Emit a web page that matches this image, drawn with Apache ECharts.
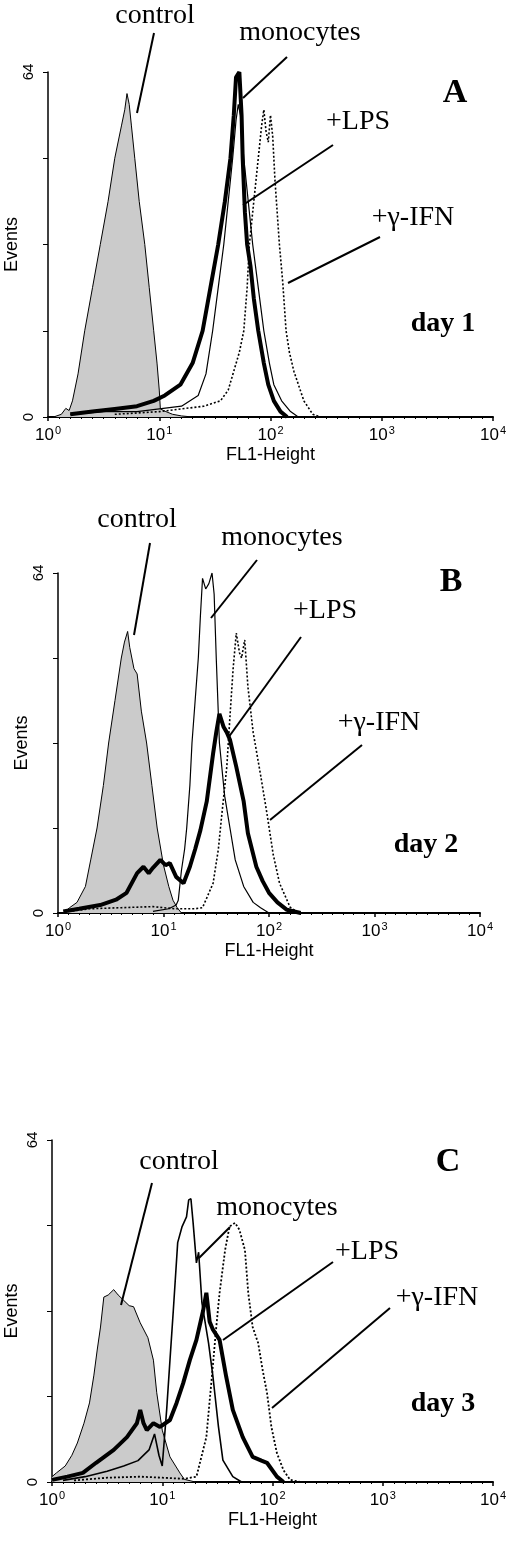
<!DOCTYPE html>
<html>
<head>
<meta charset="utf-8">
<script src="https://cdn.jsdelivr.net/npm/echarts@6/dist/echarts.min.js"></script>
<style>
  html, body { margin: 0; padding: 0; background: #fff; }
  #chart { width: 520px; height: 1545px; }
</style>
</head>
<body>
<div id="chart"></div>
<script>
  // x = log10(FL1-Height), y = events per channel
  var decades = [0, 1, 2, 3, 4]
  var yLabels = [0, 64]

  // day 1
  var ctrlA = [[0.05,0],[0.12,0.5],[0.16,1.6],[0.19,1.2],[0.22,3],[0.27,8],[0.33,16],[0.4,24],[0.47,32],[0.54,40],[0.6,48],[0.66,54],[0.69,57],[0.71,60],[0.73,58],[0.75,54],[0.78,48],[0.82,40],[0.87,32],[0.91,24],[0.95,16],[0.98,10],[1.0,5],[1.01,1.5],[1.06,1],[1.12,0.5],[1.2,0.2],[1.3,0]]
  var monoA = [[0.2,0.5],[0.4,1],[0.6,1.5],[0.8,2],[0.95,3],[1.05,4],[1.19,6],[1.3,10],[1.39,16],[1.46,24],[1.53,32],[1.59,40],[1.64,48],[1.67,56],[1.69,63],[1.72,64],[1.74,56],[1.75,48],[1.77,38],[1.79,32],[1.82,28],[1.85,22],[1.89,16],[1.94,10],[1.98,6],[2.03,3],[2.09,1],[2.15,0]]
  var lpsA = [[0.2,0.5],[0.5,1],[0.8,1],[1.0,1.5],[1.2,2],[1.35,4],[1.42,8],[1.48,16],[1.53,24],[1.58,32],[1.62,40],[1.66,48],[1.69,55],[1.71,58],[1.73,56],[1.76,48],[1.8,40],[1.84,32],[1.89,24],[1.94,16],[1.99,10],[2.03,6],[2.1,3],[2.18,1],[2.25,0]]
  var ifnA = [[0.6,0.5],[1.0,1],[1.2,1.5],[1.4,2],[1.55,3],[1.62,5],[1.67,8.5],[1.72,12],[1.76,16],[1.79,24],[1.81,32],[1.85,40],[1.89,48],[1.92,54],[1.94,57],[1.96,53],[1.98,51],[2.0,56],[2.02,52],[2.04,44],[2.08,32],[2.11,25],[2.14,16],[2.17,12],[2.21,8.5],[2.3,3],[2.38,0.5],[2.45,0]]

  // day 2
  var ctrlB = [[0.05,0],[0.11,1],[0.18,2],[0.26,5],[0.31,10],[0.37,16],[0.43,24],[0.48,32],[0.54,40],[0.6,48],[0.63,51],[0.66,53],[0.68,50],[0.7,48],[0.72,46],[0.75,45],[0.79,38],[0.84,32],[0.89,24],[0.94,16],[1.0,9],[1.05,5],[1.09,2.4],[1.13,1],[1.17,0]]
  var monoB = [[0.9,0.3],[1.05,0.8],[1.12,1.5],[1.14,2.4],[1.17,8],[1.2,12],[1.22,16],[1.25,24],[1.27,32],[1.3,40],[1.33,48],[1.35,56],[1.37,63],[1.4,61],[1.43,62],[1.46,64],[1.48,60],[1.5,48],[1.53,32],[1.58,22],[1.63,16],[1.68,10],[1.76,5],[1.85,2],[1.92,1],[2.0,0]]
  var lpsB = [[0.05,0.3],[0.2,0.8],[0.4,1.5],[0.55,2.5],[0.65,3.8],[0.75,7.5],[0.81,8.7],[0.86,7.5],[0.9,8.5],[0.97,10],[1.02,9],[1.06,9.4],[1.12,6.8],[1.19,5.6],[1.25,8.7],[1.3,12],[1.35,15.6],[1.41,21],[1.47,30],[1.5,34],[1.53,37.5],[1.57,35],[1.6,34],[1.63,32.6],[1.69,27.5],[1.76,21],[1.8,15],[1.88,8.7],[1.94,6],[2.0,3.8],[2.08,2],[2.17,0.6],[2.3,0]]
  var ifnB = [[0.1,0.3],[0.3,0.8],[0.6,1],[0.9,1.2],[1.1,0.8],[1.3,0.8],[1.37,1],[1.47,5.6],[1.52,12],[1.55,18],[1.6,27.5],[1.63,37],[1.66,46],[1.69,52.7],[1.72,49],[1.74,48],[1.77,51.4],[1.8,42.6],[1.85,34],[1.92,26],[1.98,18.8],[2.04,11],[2.1,5.6],[2.2,1.1],[2.28,0]]

  // day 3
  var ctrlC = [[0.0,1],[0.04,1.7],[0.12,3],[0.18,5],[0.23,7.3],[0.29,11],[0.34,14.8],[0.38,20],[0.41,24.7],[0.44,29],[0.47,34.6],[0.51,35],[0.56,36],[0.6,35],[0.65,34],[0.7,33],[0.74,32.8],[0.8,29.8],[0.87,27],[0.92,22.8],[0.95,16.7],[1.0,9.7],[1.07,4.7],[1.16,1.7],[1.2,0.5],[1.3,0]]
  var monoC = [[0.1,0.3],[0.3,1],[0.5,2],[0.65,3],[0.78,4],[0.88,6],[0.93,9],[0.97,5],[1.0,3],[1.04,13.5],[1.07,22.8],[1.1,32],[1.14,44.8],[1.18,47.8],[1.22,49.6],[1.24,52.8],[1.26,53],[1.28,48.5],[1.31,41],[1.33,43],[1.36,33.5],[1.42,26],[1.46,19.7],[1.51,10.3],[1.55,4.1],[1.64,1],[1.72,0]]
  var lpsC = [[0,0.4],[0.14,1],[0.28,1.7],[0.4,3.6],[0.56,6],[0.68,8.4],[0.77,11],[0.8,13.5],[0.83,11],[0.86,9.7],[0.92,11],[0.98,10.3],[1.07,11.6],[1.13,14.8],[1.19,18.5],[1.25,22.8],[1.31,26.6],[1.37,32],[1.4,35.4],[1.43,30],[1.46,28.5],[1.52,26.6],[1.58,19.7],[1.64,13.5],[1.73,8.4],[1.82,4.7],[1.9,4],[1.95,3.6],[2.04,1],[2.1,0]]
  var ifnC = [[0.2,0.3],[0.5,0.8],[0.8,1],[1.0,0.8],[1.2,0.6],[1.31,1],[1.4,8.4],[1.45,19.7],[1.49,29],[1.52,35.4],[1.57,43.4],[1.61,47.8],[1.66,48.5],[1.7,47.2],[1.75,43.4],[1.78,35.4],[1.82,29],[1.87,26],[1.91,21],[1.95,16.7],[1.99,10.3],[2.04,5.4],[2.1,2.2],[2.16,0.4],[2.25,0]]

  var SANS = '"Liberation Sans", Arial, sans-serif'
  var SERIF = '"Liberation Serif", "Times New Roman", serif'

  function xAxis(i) {
    return {
      gridIndex: i, type: 'value', min: decades[0], max: decades[decades.length - 1], interval: 1,
      axisLine: {lineStyle: {color: '#000', width: 2}},
      axisTick: {length: 4, lineStyle: {color: '#000', width: 1.5}},
      minorTick: {show: true, splitNumber: 10, length: 2, lineStyle: {color: '#000', width: 1}},
      splitLine: {show: false},
      axisLabel: {
        margin: 8,
        formatter: function (v) { return '{n|10}{s|' + v + '}' },
        rich: {
          n: {fontFamily: SANS, fontSize: 17, color: '#000'},
          s: {fontFamily: SANS, fontSize: 11, color: '#000', padding: [0, 0, 9, 1]}
        }
      },
      name: 'FL1-Height', nameLocation: 'middle', nameGap: 29, nameMoveOverlap: false,
      nameTextStyle: {fontFamily: SANS, fontSize: 18, color: '#000'}
    }
  }

  function yAxis(i, gap) {
    return {
      gridIndex: i, type: 'value', min: 0, max: 64, interval: 16,
      axisLine: {show: true, lineStyle: {color: '#000', width: 1.5}},
      axisTick: {show: true, length: 5, lineStyle: {color: '#000', width: 1}},
      splitLine: {show: false},
      axisLabel: {
        rotate: 90, margin: 12, fontFamily: SANS, fontSize: 15, color: '#000',
        formatter: function (v) { return yLabels.indexOf(v) >= 0 ? String(v) : '' }
      },
      name: 'Events', nameLocation: 'middle', nameRotate: 90, nameGap: gap, nameMoveOverlap: false,
      nameTextStyle: {fontFamily: SANS, fontSize: 18, color: '#000'}
    }
  }

  function control(data, i) {
    return {
      type: 'line', xAxisIndex: i, yAxisIndex: i, data: data, symbol: 'none', z: 1,
      lineStyle: {color: '#000', width: 1},
      areaStyle: {color: '#cbcbcb', opacity: 1}
    }
  }

  function curve(data, i, width, dotted) {
    return {
      type: 'line', xAxisIndex: i, yAxisIndex: i, data: data, symbol: 'none', z: 3,
      lineStyle: {color: '#000', width: width, type: dotted ? [2, 2] : 'solid'}
    }
  }

  function txt(s, x, y, size, bold) {
    return {
      type: 'text', x: x, y: y, z: 10,
      style: {
        text: s, fill: '#000', align: 'center', verticalAlign: 'middle',
        font: (bold ? 'bold ' : '') + size + 'px ' + SERIF
      }
    }
  }

  function ln(x1, y1, x2, y2) {
    return {type: 'line', z: 10, shape: {x1: x1, y1: y1, x2: x2, y2: y2}, style: {stroke: '#000', lineWidth: 2}}
  }

  var chart = echarts.init(document.getElementById('chart'))
  chart.setOption({
    animation: false,
    backgroundColor: '#fff',
    grid: [
      {left: 48, top: 72, width: 445, height: 345, outerBoundsMode: 'none', containLabel: false},
      {left: 58, top: 573, width: 422, height: 340, outerBoundsMode: 'none', containLabel: false},
      {left: 52, top: 1140, width: 441, height: 342, outerBoundsMode: 'none', containLabel: false}
    ],
    xAxis: [xAxis(0), xAxis(1), xAxis(2)],
    yAxis: [yAxis(0, 27), yAxis(1, 27), yAxis(2, 31)],
    series: [
      control(ctrlA, 0), curve(lpsA, 0, 1.2), curve(ifnA, 0, 1.6, true), curve(monoA, 0, 4),
      control(ctrlB, 1), curve(monoB, 1, 1.2), curve(ifnB, 1, 1.6, true), curve(lpsB, 1, 4),
      control(ctrlC, 2), curve(monoC, 2, 1.6), curve(ifnC, 2, 1.8, true), curve(lpsC, 2, 4)
    ],
    graphic: [
      // day 1
      txt('control', 155, 16, 28), txt('monocytes', 300, 33, 28), txt('A', 455, 93, 34, true),
      txt('+LPS', 358, 122, 28), txt('+γ-IFN', 413, 218, 28), txt('day 1', 443, 324, 28, true),
      ln(154, 33, 137, 113), ln(287, 57, 243, 98), ln(333, 145, 243, 205), ln(380, 237, 288, 283),
      // day 2
      txt('control', 137, 520, 28), txt('monocytes', 282, 538, 28), txt('B', 451, 582, 34, true),
      txt('+LPS', 325, 611, 28), txt('+γ-IFN', 379, 723, 28), txt('day 2', 426, 845, 28, true),
      ln(150, 543, 134, 635), ln(257, 560, 211, 618), ln(301, 637, 228, 738), ln(362, 745, 270, 820),
      // day 3
      txt('control', 179, 1162, 28), txt('monocytes', 277, 1208, 28), txt('C', 448, 1162, 34, true),
      txt('+LPS', 367, 1252, 28), txt('+γ-IFN', 437, 1298, 28), txt('day 3', 443, 1404, 28, true),
      ln(152, 1183, 121, 1305), ln(230, 1227, 199, 1258), ln(333, 1262, 223, 1340), ln(390, 1308, 272, 1408)
    ]
  })
</script>
</body>
</html>
